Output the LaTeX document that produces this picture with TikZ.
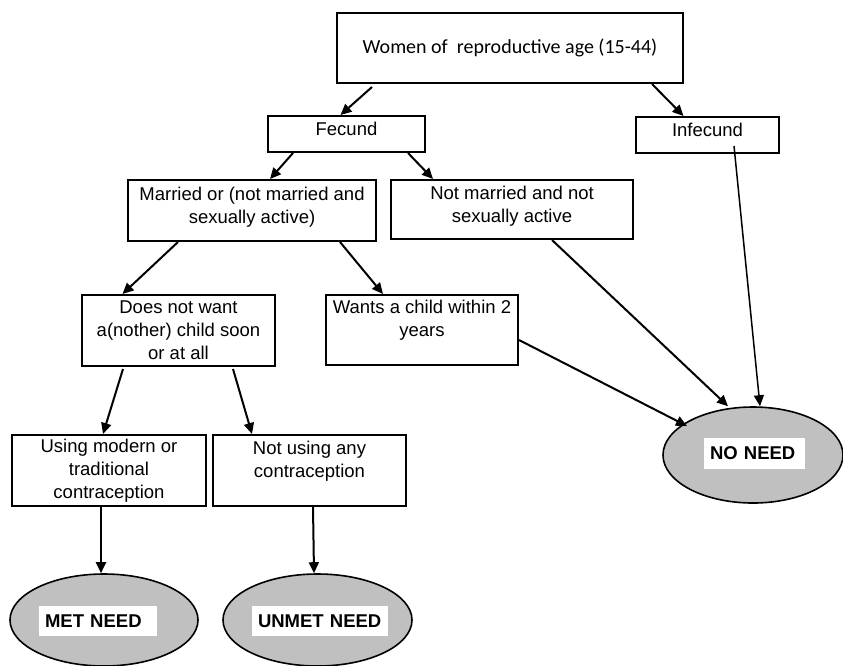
\documentclass[tikz,border=0pt]{standalone}
\usepackage{fontspec}
\setmainfont{Liberation Sans}
\newfontfamily\calibri{Carlito}
\usetikzlibrary{arrows.meta,shapes.geometric}
\definecolor{ellgray}{RGB}{192,192,192}
\tikzset{
  box/.style={draw=black, line width=2pt, fill=white, align=center, inner sep=0pt,
    font=\fontsize{18.5}{23}\selectfont},
  onebox/.style={box, text height=13pt, text depth=10pt},
  endell/.style={draw=black, line width=1.6pt, fill=ellgray, ellipse, inner sep=0pt},
  endlab/.style={fill=white, inner xsep=6pt, inner ysep=0pt, minimum height=30pt, align=left,
    font=\fontsize{18.5}{22}\selectfont\bfseries},
  arr/.style={line width=2pt, -{Triangle[length=11pt,width=10pt]}},
  thinarr/.style={line width=1.5pt, -{Triangle[length=11pt,width=10pt]}}
}
\begin{document}
\begin{tikzpicture}[x=1pt,y=-1pt]
\useasboundingbox (0,0) rectangle (843,665);
\fill[white] (0,0) rectangle (843,665);
% boxes
\node[box, minimum width=346pt, minimum height=70pt, font=\fontsize{20}{24}\selectfont\calibri,
  text height=14pt, text depth=4pt] (top) at (510,48) {Women of\ \ reproductive age (15-44)};
\node[onebox, minimum width=157pt, minimum height=36pt] (fec) at (346.5,134) {Fecund};
\node[onebox, minimum width=143pt, minimum height=36pt] (inf) at (707.5,135) {Infecund};
\node[box, minimum width=248pt, minimum height=61pt] (mar) at (252,210.5) {Married or (not married and\\sexually active)\\[-12pt]\mbox{}};
\node[box, minimum width=242pt, minimum height=59pt] (nmar) at (512,209.5) {Not married and not\\sexually active\\[-12pt]\mbox{}};
\node[box, minimum width=193pt, minimum height=71pt] (dnw) at (178.5,330.5) {Does not want\\a(nother) child soon\\or at all};
\node[box, minimum width=192pt, minimum height=70pt] (wants) at (422,330) {Wants a child within 2\\years\\\mbox{}};
\node[box, minimum width=194pt, minimum height=71pt] (using) at (109,470.5) {Using modern or\\traditional\\contraception};
\node[box, minimum width=193pt, minimum height=71pt] (nusing) at (309.5,470.5) {Not using any\\contraception\\\mbox{}};
% end ellipses
\node[endell, minimum width=188pt, minimum height=92pt] (met) at (104,620) {};
\node[endell, minimum width=189pt, minimum height=92pt] (unmet) at (317.5,620) {};
\node[endell, minimum width=180pt, minimum height=96pt] (noneed) at (753,455) {};
\node[endlab, text width=106pt] (metl) at (98,621) {MET NEED};
\node[endlab, text width=124pt] (unmetl) at (320,621) {UNMET NEED};
\node[endlab, text width=89pt, minimum height=31pt] (noneedl) at (754.5,453.5) {NO NEED};
% connectors
\draw[arr] ([xshift=-138pt,yshift=-3pt]top.south) -- ([xshift=-6pt]fec.north);
\draw[arr] ([xshift=142pt]top.south) -- ([xshift=-24pt]inf.north);
\draw[arr] ([xshift=-53.5pt]fec.south) -- ([xshift=18pt]mar.north);
\draw[arr] ([xshift=61.5pt]fec.south) -- ([xshift=-79pt]nmar.north);
\draw[arr] ([xshift=-74pt]mar.south) -- ([xshift=-56pt]dnw.north);
\draw[arr] ([xshift=88pt]mar.south) -- ([xshift=-39pt]wants.north);
\draw[arr] ([xshift=-55.5pt,yshift=-2pt]dnw.south) -- ([xshift=-6pt]using.north);
\draw[arr] ([xshift=54.5pt,yshift=-2pt]dnw.south) -- ([xshift=-57.5pt]nusing.north);
\draw[arr] ([xshift=-8pt]using.south) -- ([xshift=-3pt]met.north);
\draw[arr] ([xshift=3.5pt]nusing.south) -- ([xshift=-3.5pt]unmet.north);
\draw[arr] ([yshift=-10pt]wants.east) -- ([xshift=-66pt,yshift=29pt]noneed.center);
\draw[arr] ([xshift=40pt]nmar.south) -- ([xshift=-25pt]noneed.north);
\draw[thinarr] ([xshift=26.5pt,yshift=8pt]inf.south) -- ([xshift=7pt]noneed.north);
\end{tikzpicture}
\end{document}
